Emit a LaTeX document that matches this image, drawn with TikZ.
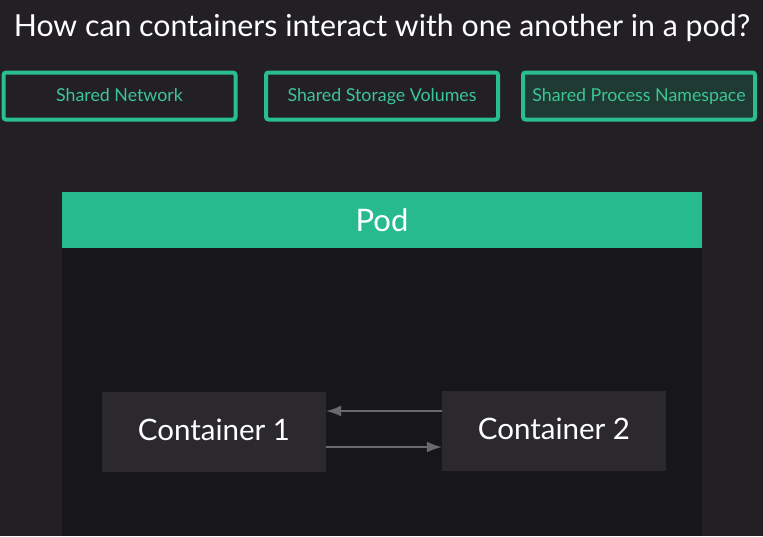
\documentclass[tikz,border=0pt]{standalone}
\usepackage{fontspec}
\setmainfont{Lato}
\definecolor{bg}{HTML}{222024}
\definecolor{podbody}{HTML}{171618}
\definecolor{podgreen}{HTML}{27BA8F}
\definecolor{boxgreen}{HTML}{2BBE8D}
\definecolor{txtgreen}{HTML}{3CC596}
\definecolor{selfill}{HTML}{1E3A32}
\definecolor{contfill}{HTML}{2B292D}
\definecolor{arrowgrey}{HTML}{6A6A6C}
\tikzset{
  topic/.style={draw=boxgreen, line width=4pt, rounded corners=2.5pt, minimum width=232pt, minimum height=47pt, inner sep=0pt, text=txtgreen, font=\fontsize{17.8}{20}\selectfont, text depth=2pt},
  cont/.style={fill=contfill, minimum width=224pt, minimum height=80pt, inner sep=0pt, text=white, font=\fontsize{29.5}{34}\selectfont, text depth=4pt},
  link/.style={draw=arrowgrey, line width=1.6pt, -{Latex[length=15pt,width=11pt]}}
}
\usetikzlibrary{arrows.meta}
\begin{document}
\begin{tikzpicture}[x=1pt,y=-1pt]
\fill[bg] (0,0) rectangle (763,536);
\useasboundingbox (0,0) rectangle (763,536);
\node[text=white, font=\fontsize{30.3}{34}\selectfont] (title) at (382,28) {How can containers interact with one another in a pod?};
\node[topic] (net) at (119.5,96) {Shared Network};
\node[topic] (sto) at (382,96) {Shared Storage Volumes};
\node[topic, fill=selfill] (proc) at (639,96) {Shared Process Namespace};
\fill[podbody] (62,192) rectangle (702,536);
\node[fill=podgreen, minimum width=640pt, minimum height=56pt, inner sep=0pt, text=white, font=\fontsize{31}{36}\selectfont] (pod) at (382,220) {Pod};
\node[cont] (c1) at (214,432) {Container 1};
\node[cont] (c2) at (554,431) {Container 2};
\draw[link] ([yshift=20pt]c2.west) -- ([yshift=20pt]c2.west -| c1.east);
\draw[link] ([yshift=-15pt]c1.east) -- ([yshift=-15pt]c1.east -| c2.west);
\end{tikzpicture}
\end{document}
